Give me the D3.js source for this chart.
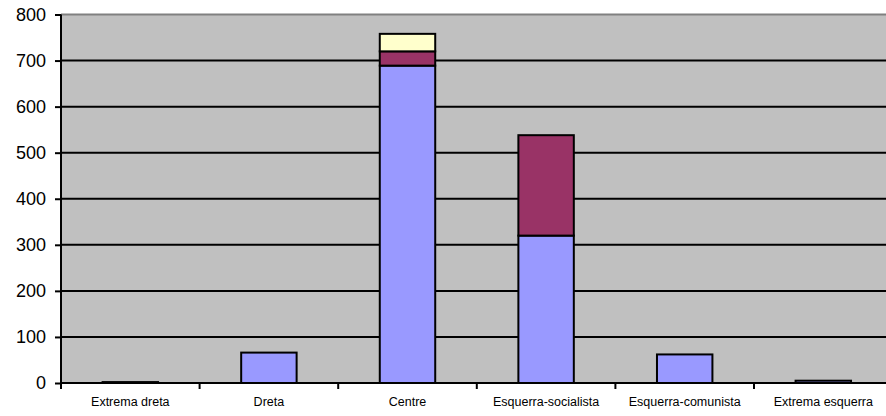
<!DOCTYPE html>
<html><head><meta charset="utf-8">
<script src="https://cdn.jsdelivr.net/npm/d3@7"></script>
<style>body{margin:0;background:#fff}svg{display:block}</style>
</head><body><svg id="c" width="886" height="416"></svg>
<script>
const categories = ["Extrema dreta","Dreta","Centre","Esquerra-socialista","Esquerra-comunista","Extrema esquerra"];
const series1 = [2, 66, 689, 320, 62, 5];
const series2 = [0, 0, 31, 218, 0, 0];
const series3 = [0, 0, 38, 0, 0, 0];
const yTicks = [0,100,200,300,400,500,600,700,800];
const colors = ["#9999FF","#993366","#FFFFCC"];

const svg = d3.select("#c");
const L = 61, R = 892.6, T = 14.5, B = 383;
const x = d3.scaleBand().domain(categories).range([L, R]).paddingInner(0.6).paddingOuter(0.3);
const xb = d3.scaleBand().domain(categories).range([L, R]);
const y = d3.scaleLinear().domain([0, 800]).range([B, T]);

svg.append("rect").attr("x", L).attr("y", T).attr("width", R - L).attr("height", B - T).attr("fill", "#C0C0C0");
svg.append("line").attr("x1", L).attr("x2", R).attr("y1", T).attr("y2", T).attr("stroke", "#808080").attr("stroke-width", 2);

// gridlines
svg.append("g").selectAll("line").data(yTicks.filter(d => d > 0 && d < 800)).join("line")
  .attr("x1", L).attr("x2", R).attr("y1", d => y(d)).attr("y2", d => y(d))
  .attr("stroke", "#000").attr("stroke-width", 2);

const data = categories.map((c, i) => ({cat: c, s0: series1[i], s1: series2[i], s2: series3[i]}));
const stack = d3.stack().keys(["s0","s1","s2"])(data);
svg.append("g").selectAll("g").data(stack).join("g").attr("fill", (d, i) => colors[i])
  .selectAll("rect").data(d => d.filter(p => p[1] - p[0] > 0)).join("rect")
  .attr("x", d => x(d.data.cat)).attr("width", x.bandwidth())
  .attr("y", d => y(d[1])).attr("height", d => y(d[0]) - y(d[1]))
  .attr("stroke", "#000").attr("stroke-width", 2);

// y axis
const ya = svg.append("g").attr("transform", `translate(${L},0)`)
  .call(d3.axisLeft(y).tickValues(yTicks).tickSize(6).tickPadding(9));
ya.select(".domain").attr("stroke-width", 2).attr("d", `M0,${B}V${T}`);
ya.selectAll(".tick line").attr("stroke-width", 2);
ya.selectAll("text").attr("font-family", "Liberation Sans, Arial, sans-serif").attr("font-size", 18).attr("fill", "#000");

// x axis
const xa = svg.append("g").attr("transform", `translate(0,${B})`)
  .call(d3.axisBottom(xb).tickSize(0).tickPadding(14));
xa.select(".domain").attr("stroke-width", 2).attr("d", `M${L},0H${R}`);
xa.selectAll("text").attr("font-family", "Liberation Sans, Arial, sans-serif").attr("font-size", 12.5).attr("fill", "#000");
svg.append("g").selectAll("line").data(categories).join("line")
  .attr("x1", d => xb(d)).attr("x2", d => xb(d)).attr("y1", B).attr("y2", B + 6)
  .attr("stroke", "#000").attr("stroke-width", 2);
</script></body></html>
